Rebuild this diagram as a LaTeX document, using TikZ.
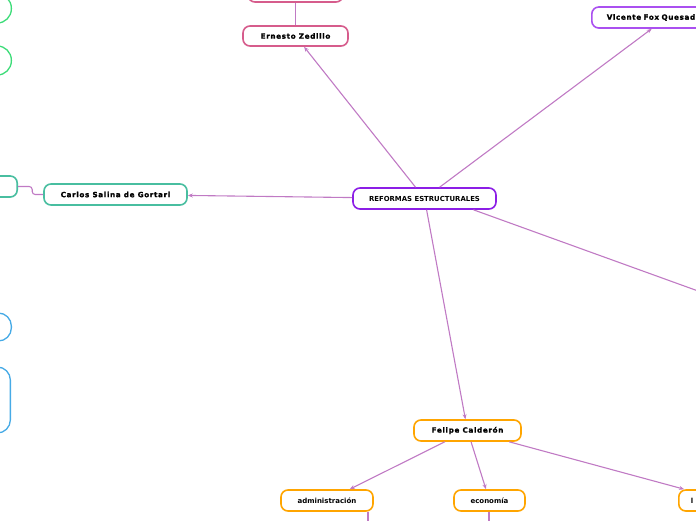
\documentclass[tikz,border=0pt]{standalone}
\usepackage{fontspec}
\setmainfont{DejaVu Sans}
\newfontfamily\namefont{DejaVu Sans}[FakeBold=1.4, LetterSpace=9]
\usepackage{xcolor}
\definecolor{mmviolet}{RGB}{140,30,230}
\definecolor{mmpink}{RGB}{214,92,140}
\definecolor{mmlilac}{RGB}{170,80,240}
\definecolor{mmteal}{RGB}{72,190,160}
\definecolor{mmgreen}{RGB}{60,220,120}
\definecolor{mmblue}{RGB}{70,170,230}
\definecolor{mmorange}{RGB}{255,165,0}
\definecolor{mmline}{RGB}{192,122,196}
\usetikzlibrary{arrows.meta, positioning, calc}

\tikzset{
  topic/.style={draw=#1, fill=white, line width=1.6pt, rounded corners=7pt,
    minimum height=21, inner sep=0pt, font=\fontsize{7}{8}\selectfont\bfseries},
  persontext/.style={font=\fontsize{7.2}{8}\selectfont\namefont\bfseries},
  blob/.style={draw=#1, fill=white, line width=1.3pt, anchor=east,
    minimum width=110, inner sep=0pt},
  conn/.style={draw=mmline, line width=1.1pt},
  arr/.style={conn, -{Stealth[length=5pt, width=4pt]}}
}

\begin{document}
\begin{tikzpicture}[x=1pt, y=-1pt]
  \useasboundingbox (0,0) rectangle (696,520);
  \clip (0,0) rectangle (696,520);

  % Central topic
  \node[topic=mmviolet, minimum width=143, font=\fontsize{6.9}{8}\selectfont\bfseries]
       (ref) at (424.5,198.5) {REFORMAS ESTRUCTURALES};

  % Ernesto Zedillo branch
  \node[topic=mmpink, persontext, minimum width=105, minimum height=20] (zed) at (295.5,36) {Ernesto Zedillo};
  \node[topic=mmpink, minimum width=95, minimum height=24] (zedtop) at (295.5,-10) {};
  \draw[conn] (zed) -- (zedtop);

  % Vicente Fox branch
  \node[topic=mmlilac, persontext, anchor=west, text width=120, inner xsep=15pt, align=left]
       (fox) at (591,17.5) {Vicente Fox Quesada};

  % Carlos Salinas branch
  \node[topic=mmteal, persontext, minimum width=143] (sal) at (115.5,194.5) {Carlos Salina de Gortari};
  \node[topic=mmteal, anchor=east, minimum width=100] (salL) at (18,186.5) {};
  \draw[conn, rounded corners=3pt] (sal.west) -- ++(-11,0) |- (salL.east);

  % Felipe Calderon branch
  \node[topic=mmorange, persontext, minimum width=107] (fel) at (467.5,430.5) {Felipe Calderón};
  \node[topic=mmorange, minimum width=92] (adm) at (327,500.5) {administración};
  \node[topic=mmorange, minimum width=71] (eco) at (489.5,500.5) {economía};
  \node[topic=mmorange, anchor=west, text width=70, inner xsep=12pt, align=left]
       (lab) at (678,500.5) {l};

  % Left margin topics (cut off)
  \node[blob=mmgreen, minimum height=29, rounded corners=14pt] (gr1) at (12,8.5) {};
  \node[blob=mmgreen, minimum height=29, rounded corners=14pt] (gr2) at (12,60.5) {};
  \node[blob=mmblue, minimum height=28, rounded corners=13pt] (bl1) at (12,327) {};
  \node[blob=mmblue, minimum height=66, rounded corners=13pt] (bl2) at (11,400) {};

  % Connectors from the central topic
  \coordinate (offR) at (770,317);
  \draw[arr] (ref) -- (zed);
  \draw[arr] (ref) -- (fox);
  \draw[arr] (ref) -- (sal);
  \draw[arr] (ref) -- (fel);
  \draw[conn] (ref.-13) -- (offR);

  % Connectors from Felipe Calderon
  \draw[arr] (fel) -- (adm);
  \draw[arr] (fel) -- (eco);
  \draw[arr] (fel) -- (lab);

  % Stubs below the subtopics
  \coordinate (admD) at (368,530);
  \coordinate (ecoD) at (489,530);
  \draw[conn] (adm.south -| admD) -- (admD);
  \draw[conn] (eco.south -| ecoD) -- (ecoD);
\end{tikzpicture}
\end{document}
